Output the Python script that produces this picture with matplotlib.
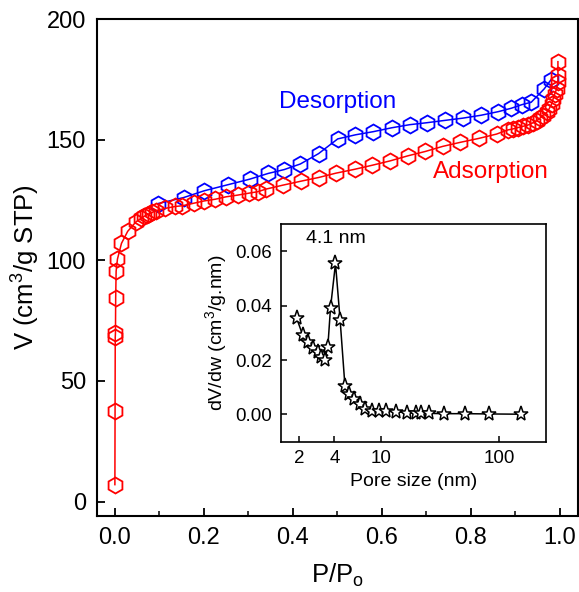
import matplotlib
matplotlib.use("Agg")
import matplotlib.pyplot as plt
from matplotlib.ticker import MultipleLocator, FixedLocator, FixedFormatter, NullLocator

plt.rcParams['font.family'] = ['Liberation Sans', 'DejaVu Sans']
plt.rcParams['mathtext.fontset'] = 'custom'
plt.rcParams['mathtext.rm'] = 'Liberation Sans'

# N2 isotherm: adsorption branch
ads_p = [0.0002, 0.0006, 0.001, 0.0015, 0.002, 0.003, 0.006, 0.015, 0.029, 0.047,
         0.060, 0.066, 0.072, 0.078, 0.084, 0.092, 0.113, 0.136, 0.152, 0.179,
         0.201, 0.226, 0.250, 0.276, 0.301, 0.321, 0.340, 0.377, 0.419, 0.458,
         0.497, 0.539, 0.579, 0.619, 0.659, 0.698, 0.737, 0.777, 0.818, 0.858,
         0.883, 0.894, 0.906, 0.917, 0.928, 0.939, 0.948, 0.955, 0.962, 0.971,
         0.976, 0.982, 0.985, 0.989, 0.993, 0.996, 0.996, 0.996]
ads_v = [7.0, 37.5, 68.0, 70.0, 84.5, 95.5, 100.5, 107.0, 112.0, 115.8,
         117.5, 118.2, 118.8, 119.3, 119.8, 120.5, 121.5, 122.3, 122.6, 123.7,
         124.6, 125.3, 126.3, 127.0, 127.8, 128.4, 129.5, 131.1, 132.8, 134.3,
         136.1, 137.7, 139.4, 141.2, 143.3, 145.1, 147.2, 148.9, 150.5, 152.3,
         154.0, 154.4, 155.0, 155.5, 156.0, 156.9, 157.8, 158.8, 160.0, 161.3,
         162.7, 164.8, 166.8, 169.0, 171.0, 173.7, 176.8, 182.3]

# desorption branch
des_p = [0.097, 0.155, 0.201, 0.254, 0.303, 0.345, 0.381, 0.417, 0.458, 0.501,
         0.541, 0.581, 0.622, 0.663, 0.701, 0.743, 0.782, 0.823, 0.862, 0.891,
         0.915, 0.936, 0.965, 0.980]
des_v = [123.5, 126.0, 128.8, 131.3, 133.6, 136.0, 137.6, 139.9, 144.2, 150.3,
         152.0, 153.3, 154.9, 156.2, 157.0, 158.0, 158.9, 160.1, 161.6, 163.0,
         164.5, 165.5, 171.0, 174.7]

# BJH pore size distribution
pore_w = [1.91, 2.15, 2.38, 2.62, 2.89, 3.10, 3.30, 3.52, 3.71, 4.09,
          4.48, 4.92, 5.32, 5.90, 6.55, 7.30, 8.30, 9.50, 11.0, 13.3,
          16.7, 19.8, 22.0, 25.7, 34.5, 52.0, 82.0, 155.0]
dvdw = [0.0355, 0.0292, 0.0265, 0.0245, 0.0228, 0.0212, 0.0200, 0.0248, 0.0392, 0.0555,
        0.0346, 0.0105, 0.0077, 0.0058, 0.0040, 0.0022, 0.0014, 0.0013, 0.0012, 0.0010,
        0.0007, 0.0006, 0.0006, 0.0004, 0.0003, 0.0003, 0.0002, 0.0001]

inset_xticks = [2, 4, 10, 100]
inset_xlabels = ['2', '4', '10', '100']

fig = plt.figure(figsize=(5.79, 5.92), dpi=100)
ax = fig.add_axes([97 / 579, 1 - 516 / 592, (577.5 - 97) / 579, (516 - 19) / 592])

ax.plot(des_p, des_v, color='blue', lw=1.1, marker='h', ms=11.5, mfc='none',
        mec='blue', mew=1.3)
ax.plot(ads_p, ads_v, color='red', lw=1.1, marker='h', ms=11.5, mfc='none',
        mec='red', mew=1.3)

ax.set_xlim(-0.04, 1.04)
ax.set_ylim(-6, 200)
ax.xaxis.set_major_locator(MultipleLocator(0.2))
ax.xaxis.set_minor_locator(MultipleLocator(0.1))
ax.yaxis.set_major_locator(MultipleLocator(50))
ax.yaxis.set_minor_locator(NullLocator())
ax.xaxis.set_major_formatter(matplotlib.ticker.FormatStrFormatter('%.1f'))
ax.tick_params(which='major', direction='in', length=6, width=1.3, labelsize=17, pad=8)
ax.tick_params(which='minor', direction='in', length=3.5, width=1.1)
for s in ax.spines.values():
    s.set_linewidth(1.5)
ax.set_xlabel(r'P/P$_\mathregular{o}$', fontsize=18.5, labelpad=9)
ax.set_ylabel(r'V (cm$^\mathregular{3}$/g STP)', fontsize=18.5, labelpad=4)

ax.text(0.50, 165.6, 'Desorption', color='blue', fontsize=17.5, ha='center', va='center')
ax.text(0.846, 136.5, 'Adsorption', color='red', fontsize=17.5, ha='center', va='center')

ins = fig.add_axes([280.7 / 579, 1 - 441.7 / 592, (545.7 - 280.7) / 579, (441.7 - 224) / 592])
ins.plot(pore_w, dvdw, color='black', lw=1.1, marker='*', ms=11, mfc='white',
         mec='black', mew=1.1)
ins.set_xscale('log')
ins.set_xlim(1.4, 250)
ins.set_ylim(-0.01, 0.07)
ins.xaxis.set_major_locator(FixedLocator(inset_xticks))
ins.xaxis.set_major_formatter(FixedFormatter(inset_xlabels))
ins.xaxis.set_minor_locator(NullLocator())
ins.yaxis.set_major_locator(FixedLocator([0.0, 0.02, 0.04, 0.06]))
ins.yaxis.set_major_formatter(matplotlib.ticker.FormatStrFormatter('%.2f'))
ins.tick_params(which='major', direction='in', length=4, width=1.1, labelsize=13.5, pad=6)
for s in ins.spines.values():
    s.set_linewidth(1.2)
ins.set_xlabel('Pore size (nm)', fontsize=14, labelpad=4)
ins.set_ylabel(r'dV/dw (cm$^\mathregular{3}$/g.nm)', fontsize=14, labelpad=4)
ins.text(4.1, 0.0645, '4.1 nm', fontsize=14, ha='center', va='center')

fig.savefig('out.png', dpi=100)
